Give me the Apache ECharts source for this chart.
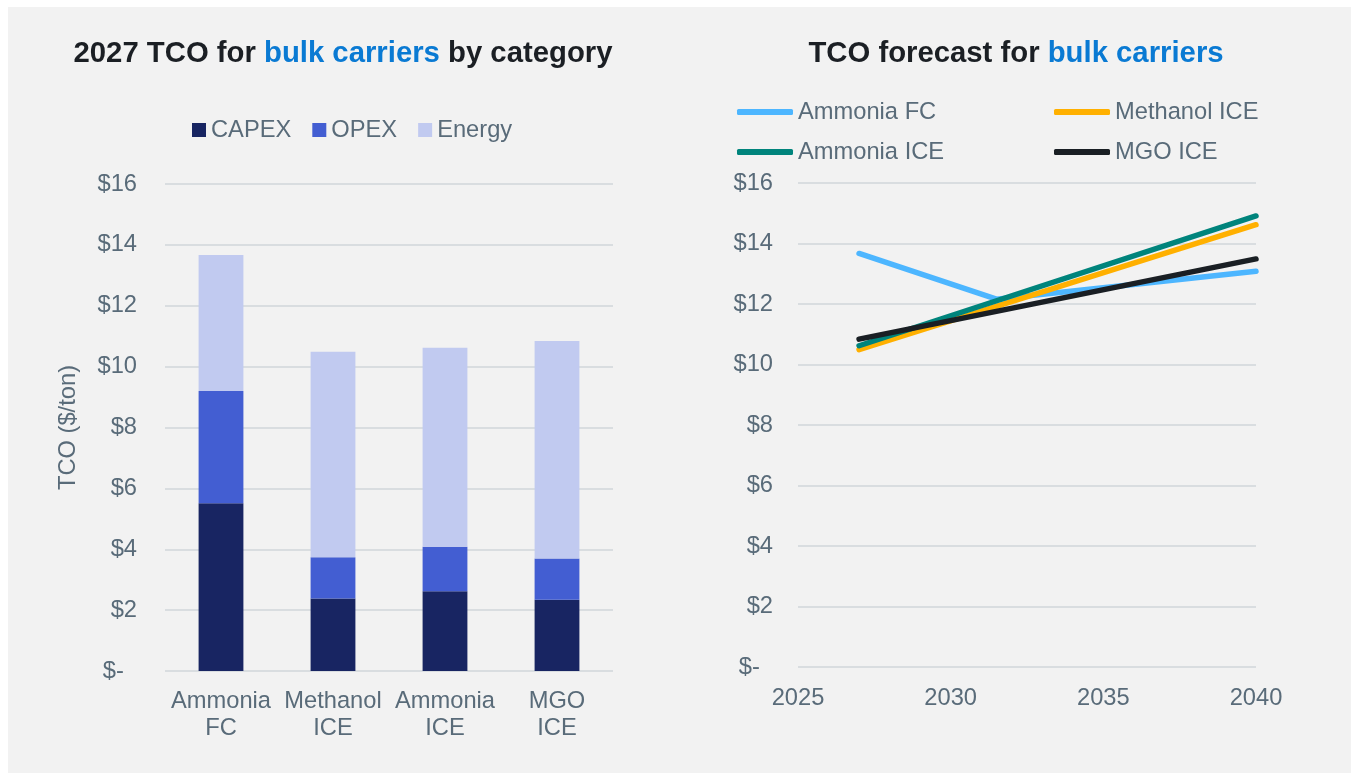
<!DOCTYPE html>
<html>
<head>
<meta charset="utf-8">
<script src="https://cdn.jsdelivr.net/npm/echarts@6/dist/echarts.min.js"></script>
<style>
  html, body { margin: 0; padding: 0; background: #ffffff; width: 1353px; height: 774px; overflow: hidden; }
  #panel { position: absolute; left: 8px; top: 7px; width: 1343px; height: 766px; background: #f2f2f2; }
  #chart { position: absolute; left: 0; top: 0; width: 1353px; height: 774px; }
</style>
</head>
<body>
<div id="panel"></div>
<div id="chart"></div>
<script>
// ---- Data ----
const categories = ['Ammonia\nFC', 'Methanol\nICE', 'Ammonia\nICE', 'MGO\nICE'];
const capex = [5.51, 2.38, 2.62, 2.34];
const opex = [3.69, 1.36, 1.46, 1.36];
const energy = [4.47, 6.75, 6.54, 7.14];

const yTicksLeft = { min: 0, max: 16, step: 2 };
const yearTicks = { min: 2025, max: 2040, step: 5 };

const ammoniaFCYears = [2027, 2031.5, 2040];
const ammoniaFC = [13.67, 12.16, 13.08];
const iceYears = [2027, 2040];
const methanolICE = [10.49, 14.62];
const ammoniaICE = [10.62, 14.91];
const mgoICE = [10.84, 13.49];

// ---- Styles ----
const labelColor = '#596b79';
const gridColor = '#d9dde0';
const fontFamily = '"Liberation Sans", Arial, sans-serif';
const fs = 23.7;

const pair = (xs, ys) => xs.map((x, i) => [x, ys[i]]);
const dollar = v => (v === 0 ? '$-  ' : '$' + v);

const chart = echarts.init(document.getElementById('chart'), null, { renderer: 'canvas' });

const titleRich = {
  d: { color: '#1b1f24', fontSize: 29.3, fontWeight: 'bold', fontFamily },
  b: { color: '#0a7ad3', fontSize: 29.3, fontWeight: 'bold', fontFamily }
};

function lineLegend(name, left, top) {
  return {
    data: [name], left, top, padding: 0,
    icon: 'roundRect', itemWidth: 56, itemHeight: 6,
    textStyle: { color: labelColor, fontSize: fs, fontFamily },
    selectedMode: false
  };
}

const option = {
  animation: false,
  textStyle: { fontFamily },
  title: [
    { text: '{d|2027 TCO for }{b|bulk carriers}{d| by category}', left: 343, top: 39, textAlign: 'center', padding: 0, textStyle: { rich: titleRich } },
    { text: '{d|TCO forecast for }{b|bulk carriers}', left: 1016, top: 39, textAlign: 'center', padding: 0, textStyle: { rich: titleRich } }
  ],
  legend: [
    {
      data: ['CAPEX', 'OPEX', 'Energy'], left: 192, top: 118, padding: 0,
      icon: 'rect', itemWidth: 14, itemHeight: 14, itemGap: 21,
      textStyle: { color: labelColor, fontSize: fs, fontFamily }, selectedMode: false
    },
    lineLegend('Ammonia FC', 737, 100),
    lineLegend('Methanol ICE', 1054, 100),
    lineLegend('Ammonia ICE', 737, 140),
    lineLegend('MGO ICE', 1054, 140)
  ],
  grid: [
    { left: 165, top: 184, width: 448, height: 487 },
    { left: 798, top: 183, width: 458, height: 484 }
  ],
  xAxis: [
    {
      type: 'category', gridIndex: 0, data: categories,
      axisLine: { show: false }, axisTick: { show: false },
      axisLabel: { color: labelColor, fontSize: fs, lineHeight: 27, margin: 17, fontFamily, interval: 0 }
    },
    {
      type: 'value', gridIndex: 1, min: yearTicks.min, max: yearTicks.max, interval: yearTicks.step,
      axisLine: { show: false }, axisTick: { show: false }, splitLine: { show: false },
      axisLabel: { color: labelColor, fontSize: fs, margin: 19, fontFamily, formatter: v => String(v) }
    }
  ],
  yAxis: [
    {
      type: 'value', gridIndex: 0, min: yTicksLeft.min, max: yTicksLeft.max, interval: yTicksLeft.step,
      name: 'TCO ($/ton)', nameLocation: 'middle', nameGap: 85, nameRotate: 90,
      nameTextStyle: { color: labelColor, fontSize: fs, fontFamily },
      axisLine: { show: false }, axisTick: { show: false },
      splitLine: { lineStyle: { color: gridColor, width: 2 } },
      axisLabel: { color: labelColor, fontSize: fs, margin: 28, fontFamily, formatter: dollar }
    },
    {
      type: 'value', gridIndex: 1, min: yTicksLeft.min, max: yTicksLeft.max, interval: yTicksLeft.step,
      axisLine: { show: false }, axisTick: { show: false },
      splitLine: { lineStyle: { color: gridColor, width: 2 } },
      axisLabel: { color: labelColor, fontSize: fs, margin: 25, fontFamily, formatter: dollar }
    }
  ],
  series: [
    { name: 'CAPEX', type: 'bar', stack: 'tco', xAxisIndex: 0, yAxisIndex: 0, barWidth: '40%', data: capex, itemStyle: { color: '#182562' } },
    { name: 'OPEX', type: 'bar', stack: 'tco', xAxisIndex: 0, yAxisIndex: 0, data: opex, itemStyle: { color: '#435ed2' } },
    { name: 'Energy', type: 'bar', stack: 'tco', xAxisIndex: 0, yAxisIndex: 0, data: energy, itemStyle: { color: '#c1caf0' } },
    { name: 'Ammonia FC', type: 'line', xAxisIndex: 1, yAxisIndex: 1, data: pair(ammoniaFCYears, ammoniaFC), showSymbol: false, lineStyle: { color: '#4db6ff', width: 5.5, cap: 'round', join: 'round' }, itemStyle: { color: '#4db6ff' } },
    { name: 'Methanol ICE', type: 'line', xAxisIndex: 1, yAxisIndex: 1, data: pair(iceYears, methanolICE), showSymbol: false, lineStyle: { color: '#ffb000', width: 5.5, cap: 'round' }, itemStyle: { color: '#ffb000' } },
    { name: 'Ammonia ICE', type: 'line', xAxisIndex: 1, yAxisIndex: 1, data: pair(iceYears, ammoniaICE), showSymbol: false, lineStyle: { color: '#00847c', width: 5.5, cap: 'round' }, itemStyle: { color: '#00847c' } },
    { name: 'MGO ICE', type: 'line', xAxisIndex: 1, yAxisIndex: 1, data: pair(iceYears, mgoICE), showSymbol: false, lineStyle: { color: '#1a1f24', width: 5.5, cap: 'round' }, itemStyle: { color: '#1a1f24' } }
  ]
};

chart.setOption(option);
</script>
</body>
</html>
